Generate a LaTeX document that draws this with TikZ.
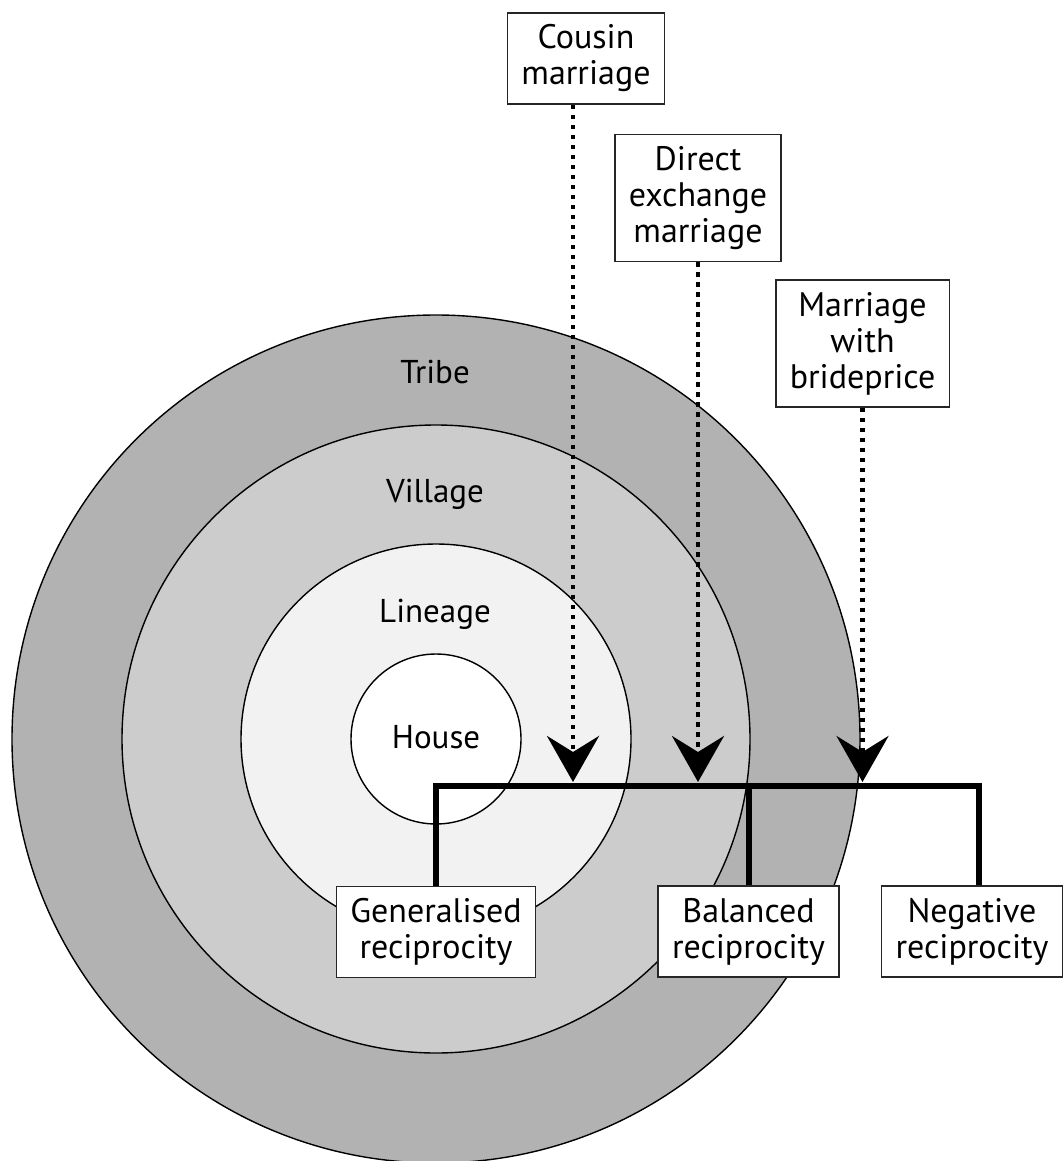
\documentclass[tikz,border=0pt]{standalone}
\usepackage{fontspec}
\setmainfont{PT Sans}
\usetikzlibrary{arrows.meta}

\begin{document}
\begin{tikzpicture}[
    x=0.5pt, y=-0.5pt,
    ring/.style={draw, line width=0.7pt},
    lbl/.style={anchor=base, font=\fontsize{16.5}{18}\selectfont},
    box/.style={draw=black!85, line width=0.75pt, fill=white, align=center,
                inner xsep=7pt, inner ysep=6pt, font=\fontsize{17}{18}\selectfont},
    link/.style={line width=2.2pt, dash pattern=on 2.2pt off 2.8pt,
                 -{Stealth[length=23pt, width=26pt, inset=8pt]}},
    bar/.style={line width=3pt, line join=miter}
]
\useasboundingbox (0,0) rectangle (1062,1161);

% nested groups
\coordinate (c) at (436,739);
\filldraw[ring, fill=black!30] (c) circle[radius=212pt];
\filldraw[ring, fill=black!20] (c) circle[radius=157pt];
\filldraw[ring, fill=black!5]  (c) circle[radius=97.5pt];
\filldraw[ring, fill=white]    (c) circle[radius=42.5pt];

\node[lbl] (tribe)   at (435,383) {Tribe};
\node[lbl] (village) at (435,502) {Village};
\node[lbl] (lineage) at (435,622) {Lineage};
\node[lbl] (house)   at (436,748) {House};

% marriage types
\node[box] (cousin) at (586,58.5)  {Cousin\\marriage};
\node[box] (direct) at (698,198)   {Direct\\exchange\\marriage};
\node[box] (bride)  at (862.5,343.5) {Marriage\\with\\brideprice};

% reciprocity types
\node[box] (gen) at (436,932)   {Generalised\\reciprocity};
\node[box] (bal) at (748.5,931.5) {Balanced\\reciprocity};
\node[box] (neg) at (972,931.5) {Negative\\reciprocity};

\coordinate (bar) at (0,786);
\coordinate (tip) at (0,782);
\coordinate (cx)  at (573,0);
\coordinate (rx)  at (979,0);

\draw[bar] (gen.north) |- (bar -| rx) -- (neg.north -| rx);
\draw[bar] (bal.north) -- (bal.north |- bar);

\draw[link] (cousin.south -| cx) -- (tip -| cx);
\draw[link] (direct.south) -- (tip -| direct.south);
\draw[link] (bride.south)  -- (tip -| bride.south);
\end{tikzpicture}
\end{document}
